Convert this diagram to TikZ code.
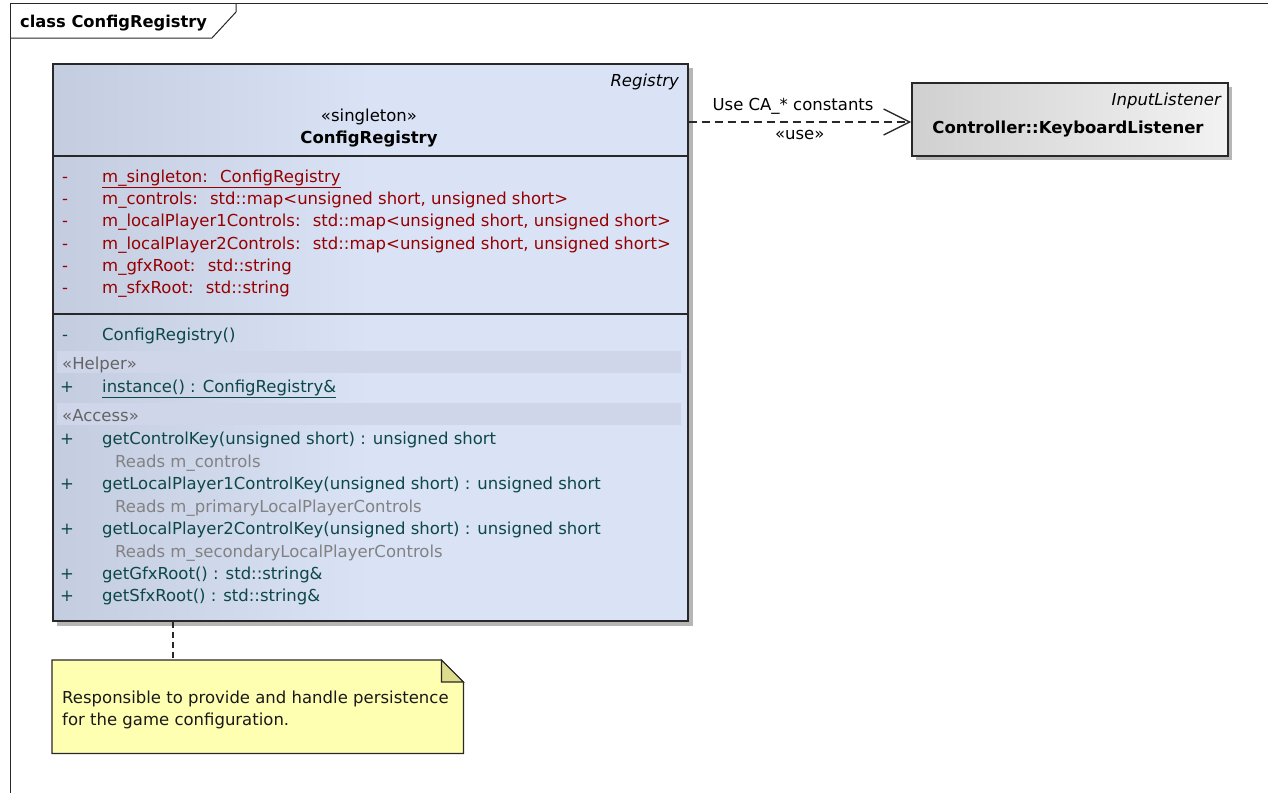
\documentclass[tikz,border=0pt]{standalone}
\usepackage{fontspec}
\setmainfont{DejaVu Sans}
\usetikzlibrary{arrows.meta,calc}
\definecolor{frameline}{RGB}{40,40,40}
\definecolor{attrred}{RGB}{150,0,0}
\definecolor{opteal}{RGB}{12,72,72}
\definecolor{notegray}{RGB}{130,130,130}
\definecolor{bandtext}{RGB}{100,100,100}
\definecolor{clsleft}{RGB}{196,204,224}
\definecolor{clsright}{RGB}{218,226,246}
\definecolor{bandfill}{RGB}{207,214,234}
\definecolor{shadowgray}{RGB}{182,182,182}
\definecolor{kbleft}{RGB}{208,208,208}
\definecolor{kbright}{RGB}{242,242,242}
\definecolor{notefill}{RGB}{255,255,178}
\definecolor{foldfill}{RGB}{220,220,140}
\begin{document}
\begin{tikzpicture}[x=1pt,y=-1pt,
  font=\fontsize{16.5}{19}\selectfont,
  txt/.style={inner sep=0pt, anchor=base west},
  attr/.style={txt, text=attrred},
  oper/.style={txt, text=opteal},
  remark/.style={txt, text=notegray},
  bandlabel/.style={txt, text=bandtext},
  boxline/.style={draw=frameline, line width=1.5pt},
  shadow/.style={fill=shadowgray},
]
\useasboundingbox (0,0) rectangle (1268,793);
\fill[white] (0,0) rectangle (1268,793);

% diagram frame with its name tab
\draw[frameline, line width=1pt] (1268,3) -- (10,3) -- (10,793);
\draw[frameline, line width=1pt] (10,38) -- (212,38) -- (236,12) -- (236,3);
\node[txt, font=\fontsize{16.3}{19}\selectfont\bfseries] (title) at (20,27) {class ConfigRegistry};

% class ConfigRegistry
\fill[shadow] (57,68) rectangle (693,626);
\node[boxline, anchor=north west, inner sep=0pt, minimum width=635pt, minimum height=557pt,
  left color=clsleft, right color=clsright, middle color=clsright] (cls) at (52,63) {};
\draw[boxline] (52,156) -- (687,156);
\draw[boxline] (52,314) -- (687,314);
\node[txt, anchor=base east, font=\fontsize{16.5}{19}\selectfont\itshape] (clsns) at (679,86) {Registry};
\node[inner sep=0pt, anchor=base] (clsst) at (369,121) {«singleton»};
\node[inner sep=0pt, anchor=base, font=\fontsize{16.5}{19}\selectfont\bfseries] (clsname) at (369,143) {ConfigRegistry};

% attributes
\foreach \y/\t [count=\i] in {
  182/{\underline{m\_singleton:~ ConfigRegistry}},
  204/{m\_controls:~ std::map<unsigned short, unsigned short>},
  226/{m\_localPlayer1Controls:~ std::map<unsigned short, unsigned short>},
  249/{m\_localPlayer2Controls:~ std::map<unsigned short, unsigned short>},
  271/{m\_gfxRoot:~ std::string},
  293/{m\_sfxRoot:~ std::string}} {
  \node[attr] (av\i) at (62,\y) {-};
  \node[attr] (a\i) at (102,\y) {\t};
}

% operations
\node[oper] (ov1) at (62,340) {-};
\node[oper] (o1) at (102,340) {ConfigRegistry()};

\fill[bandfill] (57,351) rectangle (681,373);
\node[bandlabel] (helper) at (62,369) {«Helper»};
\node[oper] (ov2) at (60,392) {+};
\node[oper] (o2) at (102,392) {\underline{instance() : ConfigRegistry\&}};

\fill[bandfill] (57,403) rectangle (681,425);
\node[bandlabel] (access) at (62,421) {«Access»};

\node[oper] (ov3) at (60,444) {+};
\node[oper] (o3) at (102,444) {getControlKey(unsigned short) : unsigned short};
\node[remark] (r3) at (115,467) {Reads m\_controls};
\node[oper] (ov4) at (60,489) {+};
\node[oper] (o4) at (102,489) {getLocalPlayer1ControlKey(unsigned short) : unsigned short};
\node[remark] (r4) at (115,512) {Reads m\_primaryLocalPlayerControls};
\node[oper] (ov5) at (60,534) {+};
\node[oper] (o5) at (102,534) {getLocalPlayer2ControlKey(unsigned short) : unsigned short};
\node[remark] (r5) at (115,557) {Reads m\_secondaryLocalPlayerControls};
\node[oper] (ov6) at (60,579) {+};
\node[oper] (o6) at (102,579) {getGfxRoot() : std::string\&};
\node[oper] (ov7) at (60,601) {+};
\node[oper] (o7) at (102,601) {getSfxRoot() : std::string\&};

% class Controller::KeyboardListener
\fill[shadow] (916,87) rectangle (1232,160);
\node[boxline, anchor=north west, inner sep=0pt, minimum width=316pt, minimum height=73pt,
  left color=kbleft, right color=kbright] (kbl) at (911,82) {};
\node[txt, anchor=base east, font=\fontsize{16.5}{19}\selectfont\itshape] (kblns) at (1221,105) {InputListener};
\node[inner sep=0pt, anchor=base, font=\fontsize{16.5}{19}\selectfont\bfseries] (kblname) at (1068,133) {Controller::KeyboardListener};

% usage dependency
\coordinate (deplevel) at (0,122);
\draw[frameline, line width=1.3pt, dash pattern=on 8pt off 5pt,
  -{Straight Barb[length=26pt, width=26pt, line width=1.3pt]}]
  (cls.east |- deplevel) -- (kbl.west |- deplevel)
  node[pos=0.47, above=7pt, inner sep=0pt, text=black] (deplabel) {Use CA\_* constants}
  node[pos=0.5, below=8pt, inner sep=0pt, text=black] (depst) {«use»};

% note attached to the class
\node[anchor=north west, inner sep=0pt, minimum width=411pt, minimum height=93pt] (note) at (52,660) {};
\filldraw[fill=notefill, draw=frameline, line width=1.2pt]
  (note.north west) -- ($(note.north east)+(-22,0)$) -- ($(note.north east)+(0,22)$)
  -- (note.south east) -- (note.south west) -- cycle;
\filldraw[fill=foldfill, draw=frameline, line width=1.2pt]
  ($(note.north east)+(-22,0)$) -- ($(note.north east)+(-22,22)$) -- ($(note.north east)+(0,22)$) -- cycle;
\node[txt, text=black!90] (notel1) at (62,703) {Responsible to provide and handle persistence};
\node[txt, text=black!90] (notel2) at (62,725) {for the game configuration.};
\coordinate (notelink) at (173,0);
\draw[frameline, line width=1.2pt, dash pattern=on 6pt off 4pt]
  (cls.south -| notelink) -- (note.north -| notelink);
\end{tikzpicture}
\end{document}
